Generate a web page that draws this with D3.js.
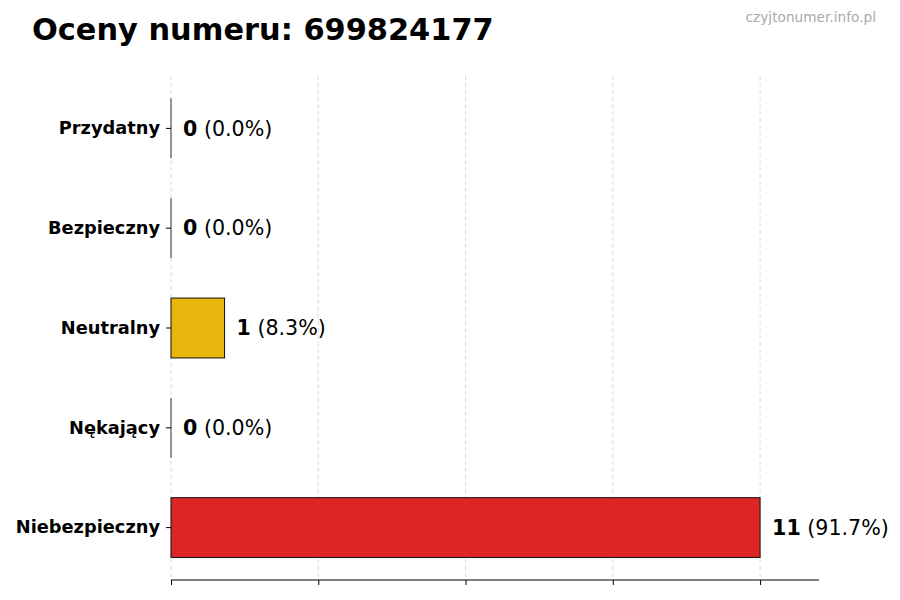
<!DOCTYPE html>
<html>
<head>
<meta charset="utf-8">
<script src="https://cdn.jsdelivr.net/npm/d3@7"></script>
<style>
  body { margin: 0; background: #fff; }
  text { font-family: "DejaVu Sans", sans-serif; }
</style>
</head>
<body>
<script>
// chart data
const categories = ["Przydatny", "Bezpieczny", "Neutralny", "Nękający", "Niebezpieczny"];
const counts = [0, 0, 1, 0, 11];
const percents = ["0.0%", "0.0%", "8.3%", "0.0%", "91.7%"];
const barColors = ["#22a447", "#3b82f6", "#e9b50d", "#f97316", "#dc2626"];
const xTicks = [0, 2.75, 5.5, 8.25, 11];

const width = 900, height = 600;
const svg = d3.select("body").append("svg").attr("width", width).attr("height", height);

const x = d3.scaleLinear().domain([0, 12.1]).range([171, 819]);
const y = d3.scaleBand().domain(categories).range([76, 580]).paddingInner(0.4).paddingOuter(0.225);

// grid
svg.selectAll("line.grid")
  .data(xTicks)
  .enter().append("line")
  .attr("class", "grid")
  .attr("x1", d => x(d)).attr("x2", d => x(d))
  .attr("y1", 76).attr("y2", 580)
  .attr("stroke", "#d0d0d0")
  .attr("stroke-width", 0.8)
  .attr("stroke-dasharray", "4,3");

// bars
svg.selectAll("rect.bar")
  .data(categories)
  .enter().append("rect")
  .attr("class", "bar")
  .attr("x", x(0))
  .attr("y", d => y(d))
  .attr("width", (d, i) => x(counts[i]) - x(0))
  .attr("height", y.bandwidth())
  .attr("fill", (d, i) => barColors[i])
  .attr("stroke", "#111")
  .attr("stroke-width", 1);

// zero-width bars still show an edge line
svg.selectAll("line.zero")
  .data(categories.filter((d, i) => counts[i] === 0))
  .enter().append("line")
  .attr("x1", x(0)).attr("x2", x(0))
  .attr("y1", d => y(d)).attr("y2", d => y(d) + y.bandwidth())
  .attr("stroke", "#333")
  .attr("stroke-width", 1);

// x axis (no labels)
const xAxis = svg.append("g")
  .attr("transform", "translate(0,580)")
  .call(d3.axisBottom(x).tickValues(xTicks).tickSize(5).tickFormat(""));
xAxis.select(".domain").attr("stroke", "#000").attr("d", `M${x(0)},0H${x(12.1)}`);
xAxis.selectAll(".tick line").attr("stroke", "#000");

// y axis labels
const yAxis = svg.append("g")
  .attr("transform", `translate(${x(0)},0)`)
  .call(d3.axisLeft(y).tickSize(5).tickPadding(6));
yAxis.select(".domain").remove();
yAxis.selectAll(".tick line").attr("stroke", "#000");
yAxis.selectAll(".tick text")
  .attr("font-family", "DejaVu Sans")
  .attr("font-size", 17.8)
  .attr("font-weight", "bold")
  .attr("fill", "#000");

// value labels
const labels = svg.selectAll("text.val")
  .data(categories)
  .enter().append("text")
  .attr("class", "val")
  .attr("x", (d, i) => x(counts[i]) + 12)
  .attr("y", d => y(d) + y.bandwidth() / 2)
  .attr("dy", "0.35em")
  .attr("font-size", 20.6)
  .attr("fill", "#000");
labels.append("tspan").attr("font-weight", "bold").text((d, i) => counts[i]);
labels.append("tspan").text((d, i) => ` (${percents[i]})`);

// title
svg.append("text")
  .attr("x", 32).attr("y", 40)
  .attr("font-size", 30.4)
  .attr("font-weight", "bold")
  .attr("fill", "#000")
  .text("Oceny numeru: 699824177");

// watermark
svg.append("text")
  .attr("x", 876).attr("y", 22)
  .attr("text-anchor", "end")
  .attr("font-size", 13.7)
  .attr("fill", "#aaa")
  .text("czyjtonumer.info.pl");
</script>
</body>
</html>
